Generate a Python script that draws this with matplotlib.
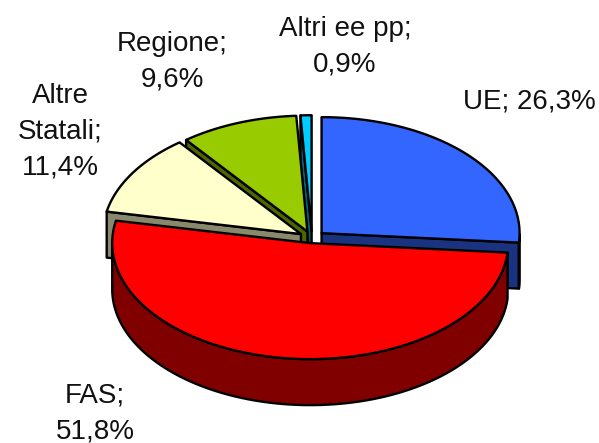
import numpy as np
import matplotlib
matplotlib.use("Agg")
import matplotlib.pyplot as plt
from matplotlib.patches import Polygon

labels = ["UE", "FAS", "Altre\nStatali", "Regione", "Altri ee pp"]
values = [26.3, 51.8, 11.4, 9.6, 0.9]
top_colors = ["#3366FF", "#FF0000", "#FFFFCC", "#99CC00", "#00CCFF"]
side_colors = ["#1A3380", "#800000", "#88886C", "#4D6600", "#006680"]

CX, CY = 312.0, 237.2
RX, RY = 198.0, 116.0
DEPTH = 46.0
EXPLODE = 13.0
EXPLODE_Y = 0.46
LW = 1.7

label_pos = [(529, 101), (95, 413.5), (60, 131.5), (172, 62), (345, 47)]
label_sep = ["; ", ";\n", ";\n", ";\n", ";\n"]

plt.rcParams["font.family"] = ["Liberation Sans", "DejaVu Sans"]
fig = plt.figure(figsize=(5.99, 4.43), dpi=100)
ax = fig.add_axes([0, 0, 1, 1])
ax.set_xlim(0, 599)
ax.set_ylim(443, 0)
ax.axis("off")

fracs = np.array(values) / sum(values)
edges = np.concatenate([[0], np.cumsum(fracs)]) * 2 * np.pi


def ellipse_pt(theta, ox, oy):
    return ox + RX * np.sin(theta), oy - RY * np.cos(theta)


def add_poly(xs, ys, color, z):
    ax.add_patch(Polygon(np.column_stack([xs, ys]), closed=True, facecolor=color,
                         edgecolor="black", linewidth=LW, joinstyle="round", zorder=z))


# painter's order: far slices first, the front slice last
order = [4, 3, 2, 0, 1]
for z, i in enumerate(order):
    a0, a1 = edges[i], edges[i + 1]
    mid = (a0 + a1) / 2
    ox = CX + EXPLODE * np.sin(mid)
    oy = CY - EXPLODE * np.cos(mid) * EXPLODE_Y
    t = np.linspace(a0, a1, 160)
    arc_x, arc_y = ellipse_pt(t, ox, oy)
    base = z * 10
    # radial cut faces that turn towards the viewer
    for a, visible in ((a0, np.sin(a0) < -1e-6), (a1, np.sin(a1) > 1e-6)):
        if visible:
            ex, ey = ellipse_pt(a, ox, oy)
            add_poly([ox, ex, ex, ox], [oy, ey, ey + DEPTH, oy + DEPTH], side_colors[i], base + 1)
    # outer rim, only where it faces the viewer
    front = np.cos(t) < 0
    if front.any():
        rim_x, rim_y = arc_x[front], arc_y[front]
        add_poly(np.concatenate([rim_x, rim_x[::-1]]),
                 np.concatenate([rim_y, rim_y[::-1] + DEPTH]), side_colors[i], base + 2)
    # top face
    add_poly(np.concatenate([[ox], arc_x]), np.concatenate([[oy], arc_y]), top_colors[i], base + 3)

for name, v, sep, (x, y) in zip(labels, values, label_sep, label_pos):
    txt = f"{name}{sep}{v:.1f}%".replace(".", ",")
    ax.text(x, y, txt, ha="center", va="center", fontsize=20, color="#111111",
            linespacing=1.48, zorder=100)

fig.savefig("out.png", dpi=100)
